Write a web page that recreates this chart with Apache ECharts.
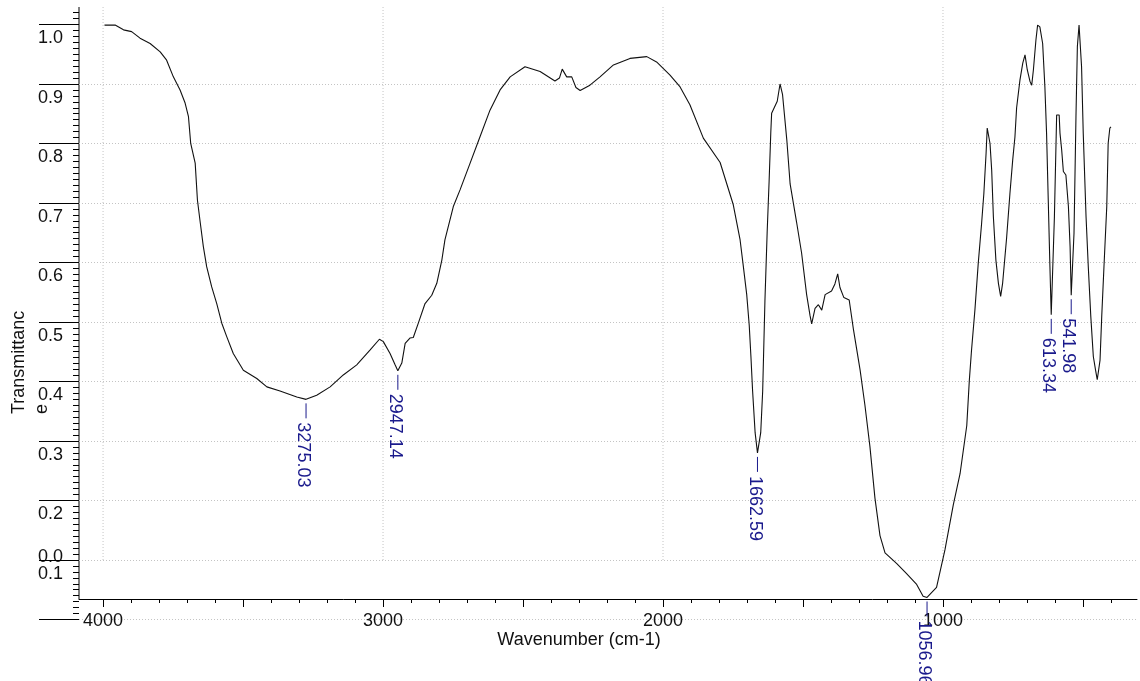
<!DOCTYPE html>
<html>
<head>
<meta charset="utf-8">
<script src="https://cdn.jsdelivr.net/npm/echarts@6/dist/echarts.min.js"></script>
<style>
  html, body { margin: 0; padding: 0; background: #fff; }
  #main { width: 1140px; height: 681px; }
</style>
</head>
<body>
<div id="main"></div>
<script>
// spectrum (cm-1 / transmittance)
var wavenumbers = [
  3995, 3957, 3927, 3898, 3868, 3832, 3796, 3773, 3749, 3725, 3707, 3695, 3687, 3671, 3663, 3654,
  3642, 3630, 3612, 3594, 3576, 3558, 3535, 3499, 3451, 3415, 3368, 3308, 3275.03, 3237, 3189, 3142,
  3094, 3046, 3013, 2999, 2975, 2957, 2947.14, 2933, 2921, 2904, 2892, 2874, 2850, 2826, 2808, 2790,
  2779, 2749, 2725, 2689, 2654, 2618, 2582, 2546, 2493, 2439, 2386, 2370, 2360, 2344, 2326, 2311,
  2296, 2261, 2225, 2177, 2118, 2058, 2023, 1975, 1939, 1904, 1856, 1796, 1749, 1725, 1713, 1701,
  1692, 1686, 1680, 1671, 1662.59, 1651, 1644, 1636, 1628, 1621, 1615, 1612, 1592, 1582, 1573, 1558,
  1546, 1523, 1505, 1487, 1475, 1469, 1457, 1445, 1433, 1421, 1398, 1386, 1376, 1368, 1354, 1335,
  1320, 1296, 1279, 1261, 1243, 1225, 1207, 1165, 1130, 1094, 1071, 1056.96, 1023, 993, 963, 939,
  915, 906, 898, 886, 874, 862, 854, 846, 842, 835, 832, 826, 820, 811, 802, 794,
  787, 773, 761, 751, 743, 737, 725, 715, 707, 699, 689, 683, 677, 668, 662, 654,
  644, 636, 630, 624, 618, 613.34, 602, 594, 585, 582, 576, 570, 561, 552, 546, 541.98,
  537, 532, 525, 520, 514, 508, 505, 499, 489, 481, 472, 463, 455, 449, 439, 433,
  425, 415, 410, 404, 400
];
var transmittance = [
  0.999, 0.999, 0.991, 0.988, 0.977, 0.968, 0.954, 0.940, 0.912, 0.890, 0.868, 0.845, 0.800, 0.767, 0.705, 0.671,
  0.627, 0.593, 0.559, 0.531, 0.498, 0.475, 0.447, 0.419, 0.405, 0.391, 0.384, 0.374, 0.370, 0.377, 0.391, 0.411,
  0.428, 0.453, 0.471, 0.467, 0.447, 0.428, 0.418, 0.431, 0.464, 0.473, 0.474, 0.498, 0.531, 0.545, 0.565, 0.604,
  0.638, 0.694, 0.722, 0.767, 0.811, 0.856, 0.890, 0.912, 0.929, 0.921, 0.905, 0.910, 0.925, 0.912, 0.912, 0.894,
  0.889, 0.898, 0.912, 0.932, 0.943, 0.946, 0.937, 0.915, 0.895, 0.865, 0.809, 0.768, 0.697, 0.639, 0.593, 0.546,
  0.494, 0.442, 0.384, 0.314, 0.280, 0.314, 0.384, 0.535, 0.651, 0.737, 0.819, 0.851, 0.871, 0.900, 0.882, 0.807,
  0.732, 0.668, 0.616, 0.546, 0.511, 0.497, 0.523, 0.529, 0.520, 0.546, 0.552, 0.564, 0.581, 0.558, 0.541, 0.537,
  0.488, 0.419, 0.361, 0.291, 0.204, 0.141, 0.112, 0.094, 0.077, 0.059, 0.039, 0.037, 0.054, 0.117, 0.193, 0.245,
  0.326, 0.401, 0.453, 0.520, 0.599, 0.666, 0.716, 0.784, 0.826, 0.828, 0.800, 0.755, 0.677, 0.604, 0.565, 0.543,
  0.565, 0.640, 0.715, 0.772, 0.811, 0.860, 0.907, 0.935, 0.949, 0.924, 0.904, 0.898, 0.924, 0.974, 0.999, 0.996,
  0.968, 0.895, 0.817, 0.705, 0.593, 0.512, 0.677, 0.848, 0.848, 0.817, 0.789, 0.753, 0.747, 0.694, 0.627, 0.545,
  0.545, 0.649, 0.845, 0.963, 0.999, 1.002, 0.929, 0.817, 0.677, 0.593, 0.509, 0.442, 0.419, 0.403, 0.436, 0.509,
  0.593, 0.694, 0.800, 0.826, 0.828
];

// labelled peaks
var peakWavenumbers = [3275.03, 2947.14, 1662.59, 1056.96, 613.34, 541.98];
var peakTransmittance = [0.370, 0.418, 0.280, 0.037, 0.512, 0.545];

// axis ticks
var xLabelValues = [4000, 3000, 2000, 1000];
var xLongTicks = [4000, 3500, 3000, 2500, 2000, 1500, 1000, 500];
var xShortTicks = [4000, 3900, 3800, 3700, 3600, 3500, 3400, 3300, 3200, 3100, 3000, 2900, 2800, 2700,
  2600, 2500, 2400, 2300, 2200, 2100, 2000, 1900, 1800, 1700, 1600, 1500, 1400, 1300, 1200, 1100,
  1000, 900, 800, 700, 600, 500, 400];
var yTickValues = [0, 0.1, 0.2, 0.3, 0.4, 0.5, 0.6, 0.7, 0.8, 0.9, 1.0];

var FONT = '"Liberation Sans", Arial, sans-serif';
var BLUE = '#1a1a8c';
var X_MIN = 307, X_MAX = 4086, Y_MAX = 1.0294;

var spectrum = wavenumbers.map(function (w, i) { return [w, transmittance[i]]; });
var peaks = peakWavenumbers.map(function (w, i) { return [w, peakTransmittance[i]]; });

var myChart = echarts.init(document.getElementById('main'));

var option = {
  animation: false,
  backgroundColor: '#fff',
  grid: { left: 79, right: 3, top: 7, bottom: 61.5 },
  xAxis: [
    {
      type: 'value', inverse: true, min: X_MIN, max: X_MAX, offset: -20.5, position: 'bottom',
      axisLine: { show: true, onZero: false, lineStyle: { color: '#000', width: 1 } },
      axisTick: { show: true, length: 4, customValues: xShortTicks, lineStyle: { color: '#000' } },
      axisLabel: {
        show: true, customValues: xLabelValues, margin: 13, color: '#111', fontSize: 18, fontFamily: FONT,
        formatter: function (v) { return String(v); }
      },
      splitLine: { show: false }
    },
    {
      type: 'value', inverse: true, min: X_MIN, max: X_MAX, offset: -20.5, position: 'bottom',
      axisLine: { show: false },
      axisTick: { show: true, length: 8, customValues: xLongTicks, lineStyle: { color: '#000' } },
      axisLabel: { show: false },
      splitLine: { show: false }
    }
  ],
  yAxis: {
    type: 'value', min: 0, max: Y_MAX, interval: 0.1,
    axisLine: { show: false },
    axisTick: { show: true, length: 40, customValues: yTickValues, lineStyle: { color: '#000' } },
    minorTick: { show: true, splitNumber: 10, length: 6, lineStyle: { color: '#000' } },
    axisLabel: {
      customValues: yTickValues, align: 'left', margin: 41, verticalAlign: 'top', padding: [5, 0, 0, 0],
      fontSize: 18, color: '#111', fontFamily: FONT,
      formatter: function (v) { return v === 0 ? '' : v.toFixed(1); }
    },
    splitLine: { show: true, showMaxLine: false, lineStyle: { color: '#c4c4c4', type: [1, 2] } }
  },
  graphic: [
    { type: 'line', shape: { x1: 79, y1: 7, x2: 79, y2: 599 }, style: { stroke: '#000', lineWidth: 1 } },
    { type: 'text', x: 38, y: 557.5, style: { text: '0.0', fill: '#111', font: '18px ' + FONT, align: 'left', verticalAlign: 'middle' } },
    { type: 'text', x: 579, y: 640, style: { text: 'Wavenumber (cm-1)', fill: '#111', font: '18px ' + FONT, align: 'center', verticalAlign: 'middle' } },
    { type: 'text', x: 8, y: 414, rotation: Math.PI / 2, style: { text: 'Transmittanc\ne', fill: '#111', font: '18px ' + FONT, lineHeight: 23, align: 'left', verticalAlign: 'top' } }
  ],
  series: [
    {
      // vertical dotted grid at the labelled wavenumbers
      type: 'custom', silent: true, z: 1,
      data: xLabelValues.map(function (v) { return [v]; }),
      renderItem: function (params, api) {
        var top = api.coord([api.value(0), Y_MAX]);
        var bot = api.coord([api.value(0), 0.1]);
        return { type: 'line', shape: { x1: top[0], y1: top[1], x2: bot[0], y2: bot[1] },
          style: { stroke: '#c4c4c4', lineWidth: 1, lineDash: [1, 2] } };
      }
    },
    {
      type: 'line', data: spectrum, symbol: 'none', z: 3,
      lineStyle: { color: '#111', width: 1.1 }
    },
    {
      type: 'custom', silent: true, z: 4,
      data: peaks,
      renderItem: function (params, api) {
        var w = api.value(0);
        var p = api.coord([w, api.value(1)]);
        return {
          type: 'group', children: [
            { type: 'line', shape: { x1: p[0], y1: p[1] + 4, x2: p[0], y2: p[1] + 19 }, style: { stroke: BLUE, lineWidth: 1 } },
            { type: 'text', x: p[0] - 3, y: p[1] + 23, rotation: -Math.PI / 2,
              style: { text: w.toFixed(2), fill: BLUE, font: '18px ' + FONT, align: 'left', verticalAlign: 'middle' } }
          ]
        };
      }
    }
  ]
};

myChart.setOption(option);
</script>
</body>
</html>
